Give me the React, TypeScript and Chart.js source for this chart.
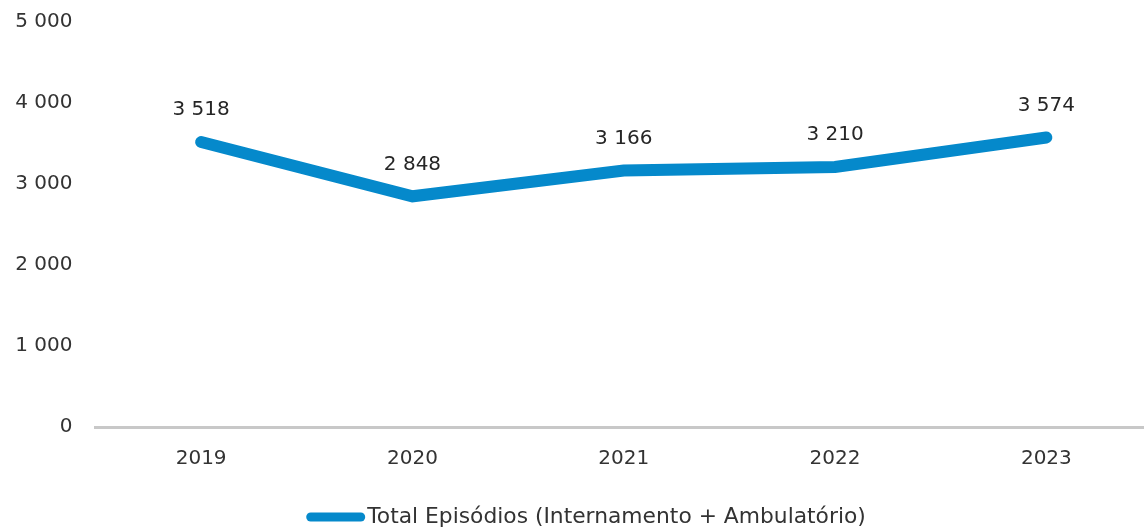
import React, { useEffect, useRef } from "react";
import { Chart, registerables } from "chart.js";

Chart.register(...registerables);

const categories = ["2019", "2020", "2021", "2022", "2023"];
const totalEpisodios = [3518, 2848, 3166, 3210, 3574];
const seriesLabel = "Total Episódios (Internamento + Ambulatório)";
const yTicks = [0, 1000, 2000, 3000, 4000, 5000];

const FONT = "'DejaVu Sans', sans-serif";
const LINE_COLOR = "#0589cb";
const TEXT_COLOR = "#333333";

const fmt = (v: number) => String(v).replace(/\B(?=(\d{3})+(?!\d))/g, " ");

const dataLabelPlugin = {
  id: "dataLabels",
  afterDatasetsDraw(chart: any) {
    const ctx = chart.ctx;
    const meta = chart.getDatasetMeta(0);
    ctx.save();
    ctx.font = `20px ${FONT}`;
    ctx.fillStyle = "#262626";
    ctx.textAlign = "center";
    ctx.textBaseline = "middle";
    meta.data.forEach((pt: any, i: number) => {
      ctx.fillText(fmt(totalEpisodios[i]), pt.x, pt.y - 32);
    });
    ctx.restore();
  },
};

const legendPlugin = {
  id: "customLegend",
  afterDraw(chart: any) {
    const ctx = chart.ctx;
    ctx.save();
    ctx.font = `21.8px ${FONT}`;
    const tw = ctx.measureText(seriesLabel).width;
    const boxW = 59;
    const gap = 2;
    const total = boxW + gap + tw;
    const cx = 586;
    const x0 = cx - total / 2;
    const y = 517;
    ctx.strokeStyle = LINE_COLOR;
    ctx.lineWidth = 9;
    ctx.lineCap = "round";
    ctx.beginPath();
    ctx.moveTo(x0 + 4.5, y);
    ctx.lineTo(x0 + boxW - 4.5, y);
    ctx.stroke();
    ctx.fillStyle = TEXT_COLOR;
    ctx.textBaseline = "middle";
    ctx.textAlign = "left";
    ctx.fillText(seriesLabel, x0 + boxW + gap, y);
    ctx.restore();
  },
};

export default function App() {
  const ref = useRef<HTMLCanvasElement>(null);
  useEffect(() => {
    if (!ref.current) return;
    const chart = new Chart(ref.current, {
      type: "line",
      data: {
        labels: categories,
        datasets: [
          {
            label: seriesLabel,
            data: totalEpisodios,
            borderColor: LINE_COLOR,
            backgroundColor: LINE_COLOR,
            borderWidth: 12,
            borderCapStyle: "round",
            borderJoinStyle: "miter",
            pointRadius: 0,
            tension: 0,
          },
        ],
      },
      plugins: [dataLabelPlugin, legendPlugin],
      options: {
        animation: false,
        responsive: false,
        layout: { padding: { top: 22, right: 0, left: 0, bottom: 0 } },
        plugins: {
          legend: { display: false },
          tooltip: { enabled: false },
        },
        scales: {
          x: {
            offset: true,
            grid: { display: false, drawTicks: false },
            border: { display: true, color: "#c8c8c8", width: 3 },
            ticks: {
              color: TEXT_COLOR,
              font: { family: FONT, size: 20 },
              padding: 20,
            },
            afterFit: (s: any) => {
              s.height = 102;
            },
          },
          y: {
            min: 0,
            max: 5000,
            afterBuildTicks: (s: any) => {
              s.ticks = yTicks.map((v) => ({ value: v }));
            },
            grid: { display: false, drawTicks: false },
            border: { display: false },
            ticks: {
              color: TEXT_COLOR,
              font: { family: FONT, size: 20 },
              padding: 23,
              callback: (v: any) => fmt(Number(v)),
            },
            afterFit: (s: any) => {
              s.width = 95.5;
              s.paddingTop = 0;
              s.paddingBottom = 0;
            },
          },
        },
      },
    });
    return () => chart.destroy();
  }, []);
  return (
    <div style={{ position: "absolute", left: 0, top: 0, width: 1144, height: 529, overflow: "hidden" }}>
      <canvas ref={ref} width={1152} height={529} style={{ display: "block" }} />
    </div>
  );
}
